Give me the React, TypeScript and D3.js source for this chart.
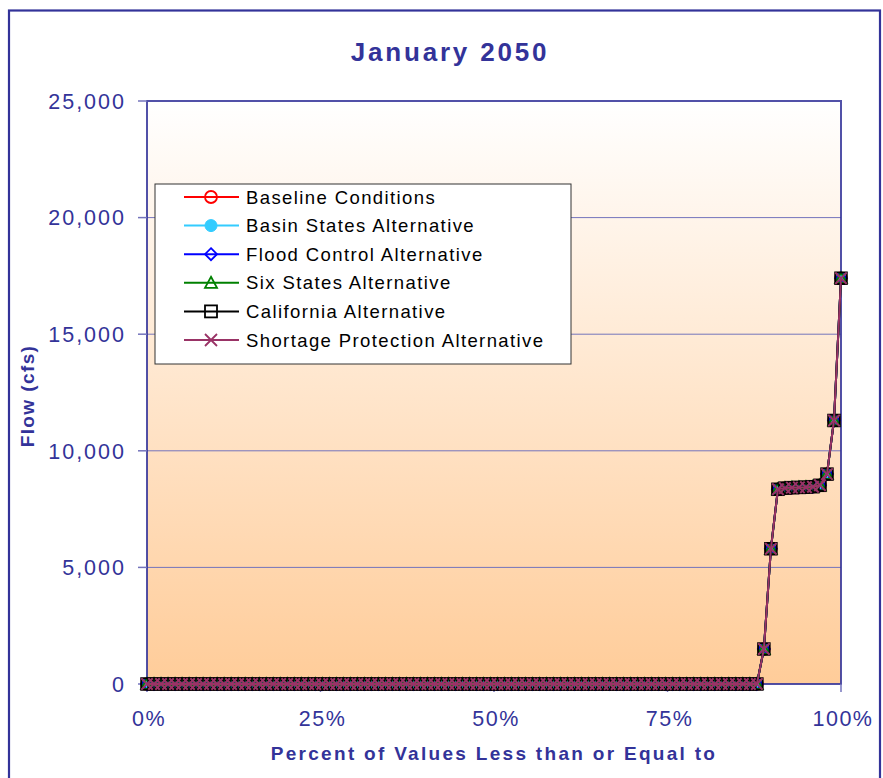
import React from "react";
import * as d3 from "d3";

const title = "January 2050";
const xTitle = "Percent of Values Less than or Equal to";
const yTitle = "Flow (cfs)";

const yTicks = [0, 5000, 10000, 15000, 20000, 25000];
const xTicks = [0, 0.25, 0.5, 0.75, 1];

// Sorted flow values (cfs), identical for all alternatives
const flowValues = [
  0, 0, 0, 0, 0, 0, 0, 0, 0, 0,
  0, 0, 0, 0, 0, 0, 0, 0, 0, 0,
  0, 0, 0, 0, 0, 0, 0, 0, 0, 0,
  0, 0, 0, 0, 0, 0, 0, 0, 0, 0,
  0, 0, 0, 0, 0, 0, 0, 0, 0, 0,
  0, 0, 0, 0, 0, 0, 0, 0, 0, 0,
  0, 0, 0, 0, 0, 0, 0, 0, 0, 0,
  0, 0, 0, 0, 0, 0, 0, 0, 0, 0,
  0, 0, 0, 0, 0, 0, 0, 0, 1500, 5800,
  8350, 8400, 8420, 8430, 8440, 8460, 8520, 9000, 11300, 17400,
];

const seriesNames = [
  "Baseline Conditions",
  "Basin States Alternative",
  "Flood Control Alternative",
  "Six States Alternative",
  "California Alternative",
  "Shortage Protection Alternative",
];
const seriesColors = ["#FF0000", "#33CCFF", "#0000FF", "#008000", "#000000", "#993366"];
const seriesMarkers = ["circle", "dot", "diamond", "triangle", "square", "cross"];
const seriesData = [flowValues, flowValues, flowValues, flowValues, flowValues, flowValues];

const FONT = "'Liberation Sans', Arial, sans-serif";
const NAVY = "#333399";

const plot = { left: 147, right: 841, top: 101, bottom: 684 };

function Marker({ type, x, y, color, s, sw }: { type: string; x: number; y: number; color: string; s: number; sw: number }) {
  const h = s / 2;
  switch (type) {
    case "circle":
      return <circle cx={x} cy={y} r={h} fill="none" stroke={color} strokeWidth={sw} />;
    case "dot":
      return <circle cx={x} cy={y} r={h} fill={color} stroke={color} strokeWidth={1} />;
    case "diamond":
      return (
        <path
          d={`M${x},${y - h}L${x + h},${y}L${x},${y + h}L${x - h},${y}Z`}
          fill="none"
          stroke={color}
          strokeWidth={sw}
        />
      );
    case "triangle":
      return (
        <path
          d={`M${x},${y - h}L${x + h},${y + h * 0.85}L${x - h},${y + h * 0.85}Z`}
          fill="none"
          stroke={color}
          strokeWidth={sw}
        />
      );
    case "square":
      return <rect x={x - h} y={y - h} width={s} height={s} fill="none" stroke={color} strokeWidth={sw} />;
    case "cross":
      return (
        <path
          d={`M${x - h},${y - h}L${x + h},${y + h}M${x - h},${y + h}L${x + h},${y - h}`}
          stroke={color}
          strokeWidth={sw}
        />
      );
    default:
      return null;
  }
}

export default function App() {
  const x = d3.scaleLinear().domain([0, 1]).range([plot.left, plot.right]);
  const y = d3.scaleLinear().domain([0, 25000]).range([plot.bottom, plot.top]);
  const n = flowValues.length;
  const pct = (i: number) => i / (n - 1);

  const line = d3
    .line<number>()
    .x((_, i) => x(pct(i)))
    .y((d) => y(d));

  const fmt = d3.format(",");
  const pfmt = d3.format(".0%");

  const legend = { x: 155, y: 184, w: 416, h: 180, rowY0: 197, rowDy: 28.6 };

  return (
    <svg
      width={883}
      height={778}
      style={{ position: "absolute", left: 0, top: 0, background: "#fff" }}
      fontFamily={FONT}
    >
      <defs>
        <linearGradient id="bg" x1="0" y1="0" x2="0" y2="1">
          <stop offset="0" stopColor="#FFFFFF" />
          <stop offset="1" stopColor="#FFCC99" />
        </linearGradient>
      </defs>

      {/* outer frame */}
      <rect x={9} y={10.5} width={871} height={800} fill="none" stroke={NAVY} strokeWidth={2.2} />

      {/* title */}
      <text x={450} y={61} textAnchor="middle" fontSize={26} fontWeight="bold" fill={NAVY} letterSpacing={2.8}>
        {title}
      </text>

      {/* plot area */}
      <rect
        x={plot.left}
        y={plot.top}
        width={plot.right - plot.left}
        height={plot.bottom - plot.top}
        fill="url(#bg)"
      />

      {/* gridlines */}
      {yTicks.slice(1, -1).map((t) => (
        <line key={t} x1={plot.left} x2={plot.right} y1={y(t)} y2={y(t)} stroke="#7474BC" strokeWidth={1} />
      ))}

      {/* plot border */}
      <rect
        x={plot.left}
        y={plot.top}
        width={plot.right - plot.left}
        height={plot.bottom - plot.top}
        fill="none"
        stroke={NAVY}
        strokeWidth={2}
        opacity={0.85}
      />

      {/* y ticks and labels */}
      {yTicks.map((t) => (
        <g key={t}>
          <line x1={plot.left - 9} x2={plot.left} y1={y(t)} y2={y(t)} stroke="#7474BC" strokeWidth={1.5} />
          <text
            x={126}
            y={y(t)}
            dy="0.36em"
            textAnchor="end"
            fontSize={21.5}
            fill={NAVY}
            letterSpacing={2}
          >
            {fmt(t)}
          </text>
        </g>
      ))}

      {/* x ticks and labels */}
      {xTicks.map((t) => (
        <g key={t}>
          <line x1={x(t)} x2={x(t)} y1={plot.bottom} y2={plot.bottom + 8} stroke="#7474BC" strokeWidth={1.5} />
          <text x={x(t) + 2} y={726} textAnchor="middle" fontSize={21.5} fill={NAVY} letterSpacing={1.5}>
            {pfmt(t)}
          </text>
        </g>
      ))}

      {/* axis titles */}
      <text x={494} y={760} textAnchor="middle" fontSize={19} fontWeight="bold" fill={NAVY} letterSpacing={2.3}>
        {xTitle}
      </text>
      <text
        transform={`translate(34,396) rotate(-90)`}
        textAnchor="middle"
        fontSize={19}
        fontWeight="bold"
        fill={NAVY}
        letterSpacing={1.4}
      >
        {yTitle}
      </text>

      {/* series */}
      <g>
        {seriesData.map((vals, si) => (
          <g key={seriesNames[si]}>
            <path d={line(vals) || ""} fill="none" stroke={seriesColors[si]} strokeWidth={2} />
            {vals.map((v, i) => (
              <Marker
                key={i}
                type={seriesMarkers[si]}
                x={x(pct(i))}
                y={y(v)}
                color={seriesColors[si]}
                s={11.5}
                sw={2}
              />
            ))}
          </g>
        ))}
      </g>

      {/* legend */}
      <rect x={legend.x} y={legend.y} width={legend.w} height={legend.h} fill="#FFFFFF" stroke="#333333" strokeWidth={1} />
      {seriesNames.map((name, i) => {
        const ry = legend.rowY0 + i * legend.rowDy;
        return (
          <g key={name}>
            <line x1={184} x2={239} y1={ry} y2={ry} stroke={seriesColors[i]} strokeWidth={2} />
            <Marker type={seriesMarkers[i]} x={211} y={ry} color={seriesColors[i]} s={12} sw={1.8} />
            <text x={246} y={ry} dy="0.36em" fontSize={18.5} fill="#000" letterSpacing={1.4}>
              {name}
            </text>
          </g>
        );
      })}
    </svg>
  );
}
